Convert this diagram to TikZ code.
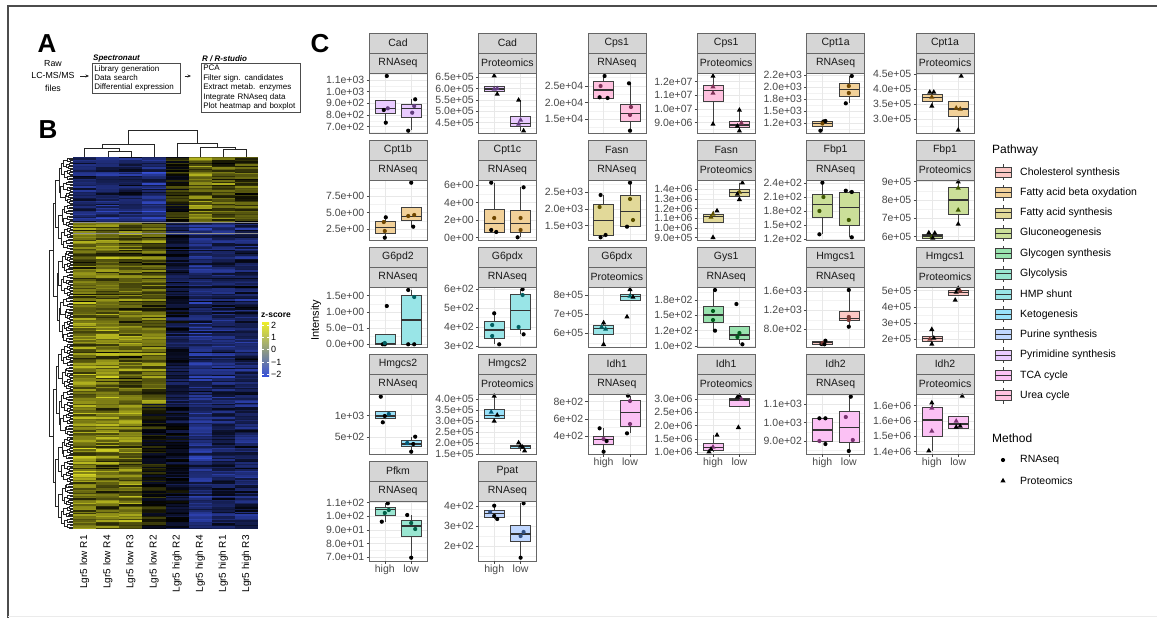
\documentclass[tikz,border=0pt]{standalone}
\usepackage{fontspec}
\setmainfont{Liberation Sans}
\usepackage{tikz}
\usepackage{xcolor}
\usetikzlibrary{arrows.meta}

% pathway colours
\definecolor{cho}{HTML}{F8766D}
\definecolor{fab}{HTML}{DE8C00}
\definecolor{fas}{HTML}{B79F00}
\definecolor{glu}{HTML}{7CAE00}
\definecolor{gly}{HTML}{00BA38}
\definecolor{gls}{HTML}{00C08B}
\definecolor{hmp}{HTML}{00BFC4}
\definecolor{ket}{HTML}{00B4F0}
\definecolor{pur}{HTML}{619CFF}
\definecolor{pyr}{HTML}{C77CFF}
\definecolor{tca}{HTML}{F564E3}
\definecolor{ure}{HTML}{FF64B0}
% heatmap colours
\definecolor{hmyel}{RGB}{238,238,40}
\definecolor{hmblu}{RGB}{55,80,215}

% facet: white panel, grid, y axis, two strips
\newcommand{\facetframe}[5]{%
  \fill[white] (0,0) rectangle (58,60);
  \begin{scope}
    \clip (0,0) rectangle (58,60);
    \foreach \k in {-3,...,7}
      \draw[gridminor] (0,{#3+(\k+0.5)*#4}) -- (58,{#3+(\k+0.5)*#4});
    \foreach \lab [count=\k from 0] in {#5}
      \draw[gridmajor] (0,{#3+\k*#4}) -- (58,{#3+\k*#4});
    \draw[gridmajor] (15.8,0) -- (15.8,60) (42.2,0) -- (42.2,60);
  \end{scope}
  \foreach \lab [count=\k from 0] in {#5} {
    \draw[axtick] (-2.5,{#3+\k*#4}) -- (0,{#3+\k*#4});
    \node[ticklab] (tl\k) at (-4.5,{#3+\k*#4}) {\lab};
  }
  \node[strip] (sg) at (29,-30) {#1};
  \node[strip] (sm) at (29,-10) {#2};
}
\newcommand{\facetborder}{\draw[pborder] (0,0) rectangle (58,60);}
% box: centre, whisker top, q3, median, q1, whisker bottom
\newcommand{\bx}[6]{%
  \draw[whisk] (#1,#2) -- (#1,#3) (#1,#5) -- (#1,#6);
  \filldraw[boxst] ({#1-10},#3) rectangle ({#1+10},#5);
  \draw[medst] ({#1-10},#4) -- ({#1+10},#4);
}
% markers
\newcommand{\mkdot}[2]{\fill[black] (#1,#2) circle (2.1pt);}
\newcommand{\mkddot}[2]{\fill[pcol!50!black] (#1,#2) circle (2.1pt);}
\newcommand{\mktri}[2]{\fill[black] (#1,#2) +(0,-2.9) -- +(2.6,1.7) -- +(-2.6,1.7) -- cycle;}
\newcommand{\mkdtri}[2]{\fill[pcol!50!black] (#1,#2) +(0,-2.9) -- +(2.6,1.7) -- +(-2.6,1.7) -- cycle;}
\newcommand{\pts}[2]{%
  \foreach \dx/\yy/\st in {#2} {%
    \pgfmathsetmacro\px{#1+\dx}%
    \csname mk\st\endcsname{\px}{\yy}%
  }%
}
\newcommand{\xaxis}{%
  \draw[axtick] (15.8,60) -- (15.8,62.5) (42.2,60) -- (42.2,62.5);
  \node[xlab] (xh) at (15.8,63.5) {high};
  \node[xlab] (xl) at (42.2,63.5) {low};
}

\begin{document}
\begin{tikzpicture}[x=1pt, y=-1pt,
    declare function={dh(\l,\i)=(\l>0)*(2.7*\l+mod(7*\i+3*\l,5)*0.45);}]
        \tikzset{
            stepbox/.style={draw=black!70, line width=0.6pt, align=left, inner xsep=2pt, inner ysep=2pt, font=\fontsize{8}{9.4}\selectfont},
            steptitle/.style={inner sep=1pt, font=\fontsize{8}{9}\selectfont\bfseries\itshape},
            flow/.style={-{Stealth[length=3.5pt,width=3pt]}, line width=0.6pt, black!85},
            letter/.style={font=\fontsize{26}{28}\selectfont\bfseries},
            dendro/.style={black!85, line width=0.4pt},
            strip/.style={draw=black!60, fill=black!16, line width=0.6pt, minimum width=58pt, minimum height=20pt, inner sep=0pt, font=\fontsize{10.5}{12}\selectfont, text=black!90},
            pborder/.style={draw=black!60, line width=0.6pt},
            gridmajor/.style={black!9, line width=0.6pt},
            gridminor/.style={black!5, line width=0.35pt},
            ticklab/.style={anchor=east, inner sep=0pt, font=\fontsize{10.5}{12}\selectfont, text=black!72},
            xlab/.style={anchor=north, inner sep=0pt, font=\fontsize{10.5}{12}\selectfont, text=black!72},
            axtick/.style={black!72, line width=0.5pt},
            whisk/.style={black!75, line width=0.6pt},
            boxst/.style={draw=black!75, fill=pcol!40!white, line width=0.6pt},
            medst/.style={black!80, line width=1.2pt},
            leglab/.style={anchor=west, inner sep=0pt, font=\fontsize{10.5}{12}\selectfont}
        }
        \useasboundingbox (0,0) rectangle (1157,618);
        \draw[black!70, line width=1.2pt] (1157,6) -- (8,6) -- (8,618);
        \draw[black!8, line width=0.6pt] (8,616) -- (1157,616);

        % ==========================================
        % A : WORKFLOW
        % ==========================================
        \node[letter] (lA) at (47,44) {A};
        \node[align=center, font=\fontsize{8.8}{12.5}\selectfont] (raw) at (53,76) {Raw\\LC-MS/MS\\files};
        \node[stepbox, text width=84pt, anchor=north west] (spec) at (92,63) {Library generation\\Data search\\Differential expression};
        \node[stepbox, text width=95pt, anchor=north west] (rstu) at (201,63) {PCA\\Filter sign. candidates\\Extract metab. enzymes\\Integrate RNAseq data\\Plot heatmap and boxplot};
        \node[steptitle, anchor=south west] (spect) at (spec.north west) {Spectronaut};
        \node[steptitle, anchor=south west] (rstut) at (rstu.north west) {R / R-studio};
        \draw[flow, shorten <=2pt, shorten >=3pt] (raw.east |- 0,76) -- (spec.west |- 0,76);
        \draw[flow, shorten <=4pt, shorten >=10pt] (spec.east |- 0,76) -- (rstu.west |- 0,76);

        % ==========================================
        % B : HEATMAP
        % ==========================================
        \node[letter] (lB) at (48,130) {B};
        \begin{scope}
            \clip (73,157) rectangle (258,529);
            \pgfmathsetseed{42}
            \foreach \r in {0,...,255} {
                \pgfmathsetmacro\ra{0.55+0.75*rnd}
                \ifnum\r<45 \def\svec{{-1.0,-1.15,-1.0,-1.3,0.2,1.1,0.8,0.6}}%
                \else\ifnum\r<170 \def\svec{{1.0,1.05,0.9,0.85,-0.6,-1.15,-1.0,-0.9}}%
                \else\def\svec{{1.1,1.0,1.0,0.1,-0.35,-1.2,-0.8,-0.9}}\fi\fi
                \foreach \c in {0,...,7} {
                    \pgfmathsetmacro\sc{\svec[\c]}
                    \pgfmathsetmacro\v{max(-2,min(2,\sc*\ra+rnd-0.5))}
                    \pgfmathsetmacro\p{abs(\v)*50}
                    \ifdim\v pt<0pt\def\hc{hmblu}\else\def\hc{hmyel}\fi
                    \fill[\hc!\p!black] ({73+\c*23.125},{157+\r*1.4531}) rectangle ++(23.4,1.75);
                }
            }
        \end{scope}
        \draw[black!45, line width=0.8pt] (73,222) -- (258,222) (73,233) -- (258,233);

        % column dendrogram
        \draw[dendro] (107.7,157) -- (107.7,151) -- (130.8,151) -- (130.8,157);
        \draw[dendro] (84.6,157) -- (84.6,148) -- (119.3,148) -- (119.3,151);
        \draw[dendro] (102,148) -- (102,144) -- (153.9,144) -- (153.9,157);
        \draw[dendro] (223.3,157) -- (223.3,149) -- (246.4,149) -- (246.4,157);
        \draw[dendro] (200.2,157) -- (200.2,147) -- (234.9,147) -- (234.9,149);
        \draw[dendro] (177.1,157) -- (177.1,143) -- (217.5,143) -- (217.5,147);
        \draw[dendro] (128,144) -- (128,130) -- (197.3,130) -- (197.3,143);

        % row dendrogram
        \foreach \L in {1,...,8} {
            \pgfmathtruncatemacro\nn{2^(8-\L)-1}
            \pgfmathtruncatemacro\hw{2^(\L-1)}
            \foreach \i in {0,...,\nn} {
                \pgfmathsetmacro\ya{157+(\i*2*\hw+\hw/2)*1.4531}
                \pgfmathsetmacro\yb{\ya+\hw*1.4531}
                \pgfmathsetmacro\xp{73-dh(\L,\i)}
                \pgfmathsetmacro\xa{73-dh(\L-1,2*\i)}
                \pgfmathsetmacro\xb{73-dh(\L-1,2*\i+1)}
                \draw[dendro] (\xa,\ya) -- (\xp,\ya) -- (\xp,\yb) -- (\xb,\yb);
            }
        }

        % sample labels
        \foreach \s [count=\k from 0] in {Lgr5 low R1,Lgr5 low R4,Lgr5 low R3,Lgr5 low R2,Lgr5 high R2,Lgr5 high R4,Lgr5 high R1,Lgr5 high R3}
            \node[rotate=90, anchor=east, inner sep=0pt, font=\fontsize{10}{12}\selectfont] (cl\k) at ({84.6+\k*23.125},535) {\s};

        % z-score key
        \node[anchor=west, inner sep=0pt, font=\fontsize{8.5}{10}\selectfont\bfseries] (zt) at (261,315) {z-score};
        \shade[top color=hmyel, middle color=black, bottom color=hmblu] (262,322) rectangle (269,376);
        \foreach \zy/\zl [count=\k] in {325/2,337/1,349.5/0,362/−1,374/−2} {
            \draw[white, line width=0.5pt] (262,\zy) -- (263.6,\zy) (267.4,\zy) -- (269,\zy);
            \node[anchor=west, inner sep=0pt, font=\fontsize{9}{10}\selectfont] (zl\k) at (271,\zy) {\zl};
        }

        % ==========================================
        % C : BOXPLOTS
        % ==========================================
        \node[letter] (lC) at (320,44) {C};
        \node[rotate=90, font=\fontsize{11}{13}\selectfont] (ylab) at (316,320) {Intensity};

        % Cad / RNAseq
        \begin{scope}[shift={(369,73)}]
            \colorlet{pcol}{pyr}
            \facetframe{Cad}{RNAseq}{7}{11.65}{1.1e+03,1.0e+03,9.0e+02,8.0e+02,7.0e+02}
            \bx{15.8}{27}{27}{35.3}{40.3}{50}
            \bx{42.2}{26.3}{31}{35.3}{44.3}{57}
            \pts{15.8}{2/3/dot,3/35.3/ddot,-1/37/dot,1/49.7/dot}
            \pts{42.2}{4/26.3/dot,3/33/ddot,1/39.7/ddot,-3/57.7/dot}
            \facetborder
        \end{scope}
        % Cad / Proteomics
        \begin{scope}[shift={(478.4,73)}]
            \colorlet{pcol}{pyr}
            \facetframe{Cad}{Proteomics}{4.3}{11.35}{6.5e+05,6.0e+05,5.5e+05,5.0e+05,4.5e+05}
            \bx{15.8}{13.7}{13.7}{16}{18.7}{18.7}
            \bx{42.2}{27}{43}{50.3}{53.7}{57.7}
            \pts{15.8}{0/2.7/tri,3/21/tri,0/16/dtri,3/15.5/dtri}
            \pts{42.2}{-2/27/tri,0/47/dtri,3/57.7/tri,-2/51/dtri}
            \facetborder
        \end{scope}
        % Cps1 / RNAseq
        \begin{scope}[shift={(587.8,73)}]
            \colorlet{pcol}{ure}
            \facetframe{Cps1}{RNAseq}{13}{16.65}{2.5e+04,2.0e+04,1.5e+04}
            \bx{15.8}{3}{8.7}{17}{25.3}{25.3}
            \bx{42.2}{10.3}{31}{40.3}{48.7}{57}
            \pts{15.8}{1/3/dot,-3/13/ddot,-4/24.3/dot,4/25/dot}
            \pts{42.2}{-1/10.3/dot,1/34/ddot,0/42/ddot,0/57.7/dot}
            \facetborder
        \end{scope}
        % Cps1 / Proteomics
        \begin{scope}[shift={(697.2,73)}]
            \colorlet{pcol}{ure}
            \facetframe{Cps1}{Proteomics}{8.7}{13.67}{1.2e+07,1.1e+07,1.0e+07,9.0e+06}
            \bx{15.8}{3}{12}{17.7}{28.7}{51}
            \bx{42.2}{37}{48.7}{52}{54.7}{57.7}
            \pts{15.8}{0/3/tri,0/13.7/dtri,0/20/dtri,0/51/tri}
            \pts{42.2}{0/37/tri,2/50/dtri,0/57.7/tri,-2/53/tri}
            \facetborder
        \end{scope}
        % Cpt1a / RNAseq
        \begin{scope}[shift={(806.6,73)}]
            \colorlet{pcol}{fab}
            \facetframe{Cpt1a}{RNAseq}{2}{12.08}{2.2e+03,2.0e+03,1.8e+03,1.5e+03,1.2e+03}
            \bx{15.8}{48.7}{48.7}{50.3}{53}{57.7}
            \bx{42.2}{3}{10.3}{16.3}{23}{30.3}
            \pts{15.8}{-2/57.7/dot,1/48.5/dot,3/48/dot,0/50.5/ddot}
            \pts{42.2}{3/3/dot,0/13/ddot,0/20/ddot,-3/30.3/dot}
            \facetborder
        \end{scope}
        % Cpt1a / Proteomics
        \begin{scope}[shift={(916,73)}]
            \colorlet{pcol}{fab}
            \facetframe{Cpt1a}{Proteomics}{1}{15}{4.5e+05,4.0e+05,3.5e+05,3.0e+05}
            \bx{15.8}{19}{21.3}{24.3}{28.7}{33}
            \bx{42.2}{28.7}{28.7}{36}{43}{57}
            \pts{15.8}{-2/19/tri,2/19/tri,0/24/dtri,0/33/tri}
            \pts{42.2}{3/3/tri,-2/35/dtri,2/36/dtri,0/57/tri}
            \facetborder
        \end{scope}

        % Cpt1b / RNAseq
        \begin{scope}[shift={(369,180)}]
            \colorlet{pcol}{fab}
            \facetframe{Cpt1b}{RNAseq}{16}{16.65}{7.5e+00,5.0e+00,2.5e+00}
            \bx{15.8}{37.3}{41}{47.7}{53.3}{57.3}
            \bx{42.2}{27.3}{27.3}{36.7}{40}{46.7}
            \pts{15.8}{1/37.3/dot,-1/42/ddot,0/51/ddot,0/57.7/dot}
            \pts{42.2}{0/2.7/dot,-3/36/ddot,3/35/ddot,2/46.7/dot}
            \facetborder
        \end{scope}
        % Cpt1c / RNAseq
        \begin{scope}[shift={(478.4,180)}]
            \colorlet{pcol}{fab}
            \facetframe{Cpt1c}{RNAseq}{5}{17.55}{6e+00,4e+00,2e+00,0e+00}
            \bx{15.8}{2.7}{29}{43.3}{52.3}{52.3}
            \bx{42.2}{7.3}{30}{43.3}{52.3}{57.3}
            \pts{15.8}{-3/2.7/dot,0/38/ddot,-3/50/dot,2/52/dot}
            \pts{42.2}{3/7.3/dot,0/38/ddot,0/50/ddot,-3/57.3/dot}
            \facetborder
        \end{scope}
        % Fasn / RNAseq
        \begin{scope}[shift={(587.8,180)}]
            \colorlet{pcol}{fas}
            \facetframe{Fasn}{RNAseq}{12.3}{16.7}{2.5e+03,2.0e+03,1.5e+03}
            \bx{15.8}{15}{24.3}{40.7}{55}{57.3}
            \bx{42.2}{2.7}{15}{31.7}{46.7}{46.7}
            \pts{15.8}{-3/15/dot,-4/27/ddot,2/55/dot,-3/57.3/dot}
            \pts{42.2}{0/2.7/dot,0/19/ddot,-3/46.7/dot,3/40/ddot}
            \facetborder
        \end{scope}
        % Fasn / Proteomics
        \begin{scope}[shift={(697.2,180)}]
            \colorlet{pcol}{fas}
            \facetframe{Fasn}{Proteomics}{9.3}{9.68}{1.4e+06,1.3e+06,1.2e+06,1.1e+06,1.0e+06,9.0e+05}
            \bx{15.8}{30.7}{34.3}{36.7}{42.7}{42.7}
            \bx{42.2}{2.7}{9.3}{12.7}{16.7}{19.3}
            \pts{15.8}{4/30.7/tri,0/34/dtri,-2/37/dtri,0/57.3/tri}
            \pts{42.2}{3/2.7/tri,0/12/dtri,0/19.3/tri,-2/14/tri}
            \facetborder
        \end{scope}
        % Fbp1 / RNAseq
        \begin{scope}[shift={(806.6,180)}]
            \colorlet{pcol}{glu}
            \facetframe{Fbp1}{RNAseq}{3.3}{13.9}{2.4e+02,2.1e+02,1.8e+02,1.5e+02,1.2e+02}
            \bx{15.8}{2.7}{14.3}{24.3}{37.3}{54.3}
            \bx{42.2}{10.7}{12.7}{27.3}{45.7}{57.3}
            \pts{15.8}{0/2.7/dot,1/17/ddot,-3/31/ddot,-3/54.3/dot}
            \pts{42.2}{-3/10.7/dot,3/12/dot,0/40/ddot,3/57.3/dot}
            \facetborder
        \end{scope}
        % Fbp1 / Proteomics
        \begin{scope}[shift={(916,180)}]
            \colorlet{pcol}{glu}
            \facetframe{Fbp1}{Proteomics}{1.7}{18.33}{9e+05,8e+05,7e+05,6e+05}
            \bx{15.8}{54.3}{54.3}{56}{58.3}{58.3}
            \bx{42.2}{1.7}{7.7}{20}{34.3}{44}
            \pts{15.8}{-3/52.7/tri,3/53/tri,0/57/dtri,1/58/tri}
            \pts{42.2}{0/1.7/tri,0/8/dtri,0/30/dtri,0/44/tri}
            \facetborder
        \end{scope}

        % G6pd2 / RNAseq
        \begin{scope}[shift={(369,287)}]
            \colorlet{pcol}{hmp}
            \facetframe{G6pd2}{RNAseq}{8.7}{16.2}{1.5e+00,1.0e+00,5.0e−01,0.0e+00}
            \bx{15.8}{47.3}{47.3}{56.3}{57.3}{57.3}
            \bx{42.2}{3}{8.7}{33}{57.3}{57.3}
            \pts{15.8}{2/19/dot,0/57.3/dot,-2/57.3/dot,0/56/ddot}
            \pts{42.2}{-3/3/dot,3/10/ddot,-3/57.3/dot,3/57.3/dot}
            \facetborder
        \end{scope}
        % G6pdx / RNAseq
        \begin{scope}[shift={(478.4,287)}]
            \colorlet{pcol}{hmp}
            \facetframe{G6pdx}{RNAseq}{2.3}{18.9}{6e+02,5e+02,4e+02,3e+02}
            \bx{15.8}{26.3}{34.7}{43}{51.3}{57.3}
            \bx{42.2}{2.3}{7}{23.7}{42.3}{47.3}
            \pts{15.8}{0/26.3/dot,-2/38/ddot,-2/49/ddot,5/57.3/dot}
            \pts{42.2}{2/2.3/dot,2/8/ddot,-2/40/ddot,3/47.3/dot}
            \facetborder
        \end{scope}
        % G6pdx / Proteomics
        \begin{scope}[shift={(587.8,287)}]
            \colorlet{pcol}{hmp}
            \facetframe{G6pdx}{Proteomics}{8}{19.15}{8e+05,7e+05,6e+05}
            \bx{15.8}{35.7}{38}{41.3}{47.3}{57.3}
            \bx{42.2}{2.3}{7}{9.7}{13.7}{13.7}
            \pts{15.8}{0/35.7/tri,2/42/dtri,0/57.3/tri,-2/40/dtri}
            \pts{42.2}{0/2.3/tri,0/9/dtri,-3/29.7/tri,3/10/tri}
            \facetborder
        \end{scope}
        % Gys1 / RNAseq
        \begin{scope}[shift={(697.2,287)}]
            \colorlet{pcol}{gly}
            \facetframe{Gys1}{RNAseq}{13}{15.33}{1.8e+02,1.5e+02,1.2e+02,1.0e+02}
            \bx{15.8}{3}{19}{28}{35.7}{43.7}
            \bx{42.2}{39.7}{39.7}{48}{52.3}{57.3}
            \pts{15.8}{2/3/dot,0/24/ddot,0/33/ddot,2/43.7/dot}
            \pts{42.2}{-3/17/dot,0/46/ddot,-2/50/ddot,3/57.3/dot}
            \facetborder
        \end{scope}
        % Hmgcs1 / RNAseq
        \begin{scope}[shift={(806.6,287)}]
            \colorlet{pcol}{cho}
            \facetframe{Hmgcs1}{RNAseq}{4}{19.15}{1.6e+03,1.2e+03,8.0e+02}
            \bx{15.8}{54.7}{54.7}{55.7}{57}{57}
            \bx{42.2}{3}{24}{31.3}{33.7}{39.7}
            \pts{15.8}{-1/57/dot,3/53.7/dot,0/56/ddot,2/57.3/dot}
            \pts{42.2}{0/3/dot,0/30/ddot,0/33/ddot,0/39.7/dot}
            \facetborder
        \end{scope}
        % Hmgcs1 / Proteomics
        \begin{scope}[shift={(916,287)}]
            \colorlet{pcol}{cho}
            \facetframe{Hmgcs1}{Proteomics}{3.7}{16.2}{5e+05,4e+05,3e+05,2e+05}
            \bx{15.8}{42.3}{49}{51.3}{54.7}{57}
            \bx{42.2}{3}{3}{5.5}{8}{8}
            \pts{15.8}{0/42.3/tri,0/57/tri,-2/52/dtri,2/51/tri}
            \pts{42.2}{0/1.3/tri,-2/5/tri,2/4/dtri,-3/13/tri}
            \facetborder
        \end{scope}

        % Hmgcs2 / RNAseq
        \begin{scope}[shift={(369,394)}]
            \colorlet{pcol}{ket}
            \facetframe{Hmgcs2}{RNAseq}{21.7}{21.6}{1e+03,5e+02}
            \bx{15.8}{17}{17}{22}{24.3}{24.3}
            \bx{42.2}{42.7}{46}{50}{52}{57.7}
            \pts{15.8}{-4/2.7/dot,-2/28.3/dot,4/20/ddot,0/22/dot}
            \pts{42.2}{4/42.7/dot,-4/49/ddot,0/57.7/dot,2/50/dot}
            \facetborder
        \end{scope}
        % Hmgcs2 / Proteomics
        \begin{scope}[shift={(478.4,394)}]
            \colorlet{pcol}{ket}
            \facetframe{Hmgcs2}{Proteomics}{5.3}{10.9}{4.0e+05,3.5e+05,3.0e+05,2.5e+05,2.0e+05,1.5e+05}
            \bx{15.8}{2}{15}{21.7}{24.3}{27}
            \bx{42.2}{48.7}{51}{52.7}{54.3}{56.7}
            \pts{15.8}{0/2/tri,-3/18/dtri,0/27/tri,3/21/tri}
            \pts{42.2}{-2/48.7/tri,4/56.7/tri,0/52/tri,2/53/tri}
            \facetborder
        \end{scope}
        % Idh1 / RNAseq
        \begin{scope}[shift={(587.8,394)}]
            \colorlet{pcol}{tca}
            \facetframe{Idh1}{RNAseq}{7.7}{17.2}{8e+02,6e+02,4e+02}
            \bx{15.8}{34.3}{42}{45.3}{50}{57.7}
            \bx{42.2}{1.7}{6}{18.7}{32.7}{39.3}
            \pts{15.8}{-4/34.3/dot,0/45/ddot,0/57.7/dot,3/47/dot}
            \pts{42.2}{-2/1.7/dot,0/7/ddot,-3/39.3/dot,0/30/ddot}
            \facetborder
            \xaxis
        \end{scope}
        % Idh1 / Proteomics
        \begin{scope}[shift={(697.2,394)}]
            \colorlet{pcol}{tca}
            \facetframe{Idh1}{Proteomics}{5}{13.33}{3.0e+06,2.5e+06,2.0e+06,1.5e+06,1.0e+06}
            \bx{15.8}{41}{49.3}{53.3}{56}{57.7}
            \bx{42.2}{4.3}{4.3}{6}{12.7}{12.7}
            \pts{15.8}{4/41/tri,-4/57.7/tri,0/53/dtri,-2/55/tri}
            \pts{42.2}{0/2/tri,2/5/dtri,-2/3/tri,-1/33.3/tri}
            \facetborder
            \xaxis
        \end{scope}
        % Idh2 / RNAseq
        \begin{scope}[shift={(806.6,394)}]
            \colorlet{pcol}{tca}
            \facetframe{Idh2}{RNAseq}{10.3}{18.35}{1.1e+03,1.0e+03,9.0e+02}
            \bx{15.8}{24.3}{24.3}{36}{47.7}{47.7}
            \bx{42.2}{2.7}{17.7}{33.3}{48.7}{57}
            \pts{15.8}{-3/24.3/dot,3/24.3/dot,-3/47/ddot,3/50/dot}
            \pts{42.2}{2/2.7/dot,-3/23/ddot,4/46/ddot,0/57/dot}
            \facetborder
            \xaxis
        \end{scope}
        % Idh2 / Proteomics
        \begin{scope}[shift={(916,394)}]
            \colorlet{pcol}{tca}
            \facetframe{Idh2}{Proteomics}{11.7}{15.33}{1.6e+06,1.6e+06,1.5e+06,1.4e+06}
            \bx{15.8}{8.7}{13.3}{26}{42.7}{56.7}
            \bx{42.2}{22}{22}{30}{34.3}{34.3}
            \pts{15.8}{0/8.7/tri,0/37/dtri,-3/56.7/tri,0/14/dtri}
            \pts{42.2}{4/2/tri,-2/27/dtri,2/32/tri,-2/33/tri}
            \facetborder
            \xaxis
        \end{scope}

        % Pfkm / RNAseq
        \begin{scope}[shift={(369,501)}]
            \colorlet{pcol}{gls}
            \facetframe{Pfkm}{RNAseq}{1.7}{13.65}{1.1e+02,1.0e+02,9.0e+01,8.0e+01,7.0e+01}
            \bx{15.8}{2.3}{6.7}{8.3}{14}{20.7}
            \bx{42.2}{14}{19.7}{25}{35.7}{56.7}
            \pts{15.8}{3/2.3/dot,-3/20.7/dot,0/12/ddot,4/9/ddot}
            \pts{42.2}{-4/14/dot,0/22/ddot,4/28/ddot,0/56.7/dot}
            \facetborder
            \xaxis
        \end{scope}
        % Ppat / RNAseq
        \begin{scope}[shift={(478.4,501)}]
            \colorlet{pcol}{pur}
            \facetframe{Ppat}{RNAseq}{5}{20}{4e+02,3e+02,2e+02}
            \bx{15.8}{4.7}{9}{12.3}{16.7}{18}
            \bx{42.2}{2.3}{24}{33}{40.7}{56.7}
            \pts{15.8}{0/4.7/dot,-4/11/ddot,3/18/dot,0/15/dot}
            \pts{42.2}{3/2.3/dot,3/31/ddot,0/35/ddot,0/56.7/dot}
            \facetborder
            \xaxis
        \end{scope}

        % ==========================================
        % LEGENDS
        % ==========================================
        \node[anchor=west, inner sep=0pt, font=\fontsize{12}{14}\selectfont] (pwt) at (992,150) {Pathway};
        \foreach \col/\name [count=\k from 0] in {cho/Cholesterol synthesis,fab/Fatty acid beta oxydation,fas/Fatty acid synthesis,glu/Gluconeogenesis,gly/Glycogen synthesis,gls/Glycolysis,hmp/HMP shunt,ket/Ketogenesis,pur/Purine synthesis,pyr/Pyrimidine synthesis,tca/TCA cycle,ure/Urea cycle} {
            \pgfmathsetmacro\ky{172.3+20.3*\k}
            \draw[whisk] (1003,\ky-8) -- (1003,\ky+8);
            \filldraw[draw=black!75, fill=\col!40!white, line width=0.6pt] (995,\ky-5) rectangle (1011,\ky+5);
            \draw[black!80, line width=0.9pt] (995,\ky) -- (1011,\ky);
            \node[leglab] (pw\k) at (1020,\ky) {\name};
        }
        \node[anchor=west, inner sep=0pt, font=\fontsize{12}{14}\selectfont] (mdt) at (992,438) {Method};
        \fill[black] (1003,460) circle (2.1pt);
        \node[leglab] (mrna) at (1020,460) {RNAseq};
        \fill[black] (1003,480.7) +(0,-2.9) -- +(2.6,1.7) -- +(-2.6,1.7) -- cycle;
        \node[leglab] (mprot) at (1020,480.7) {Proteomics};
    \end{tikzpicture}
\end{document}
